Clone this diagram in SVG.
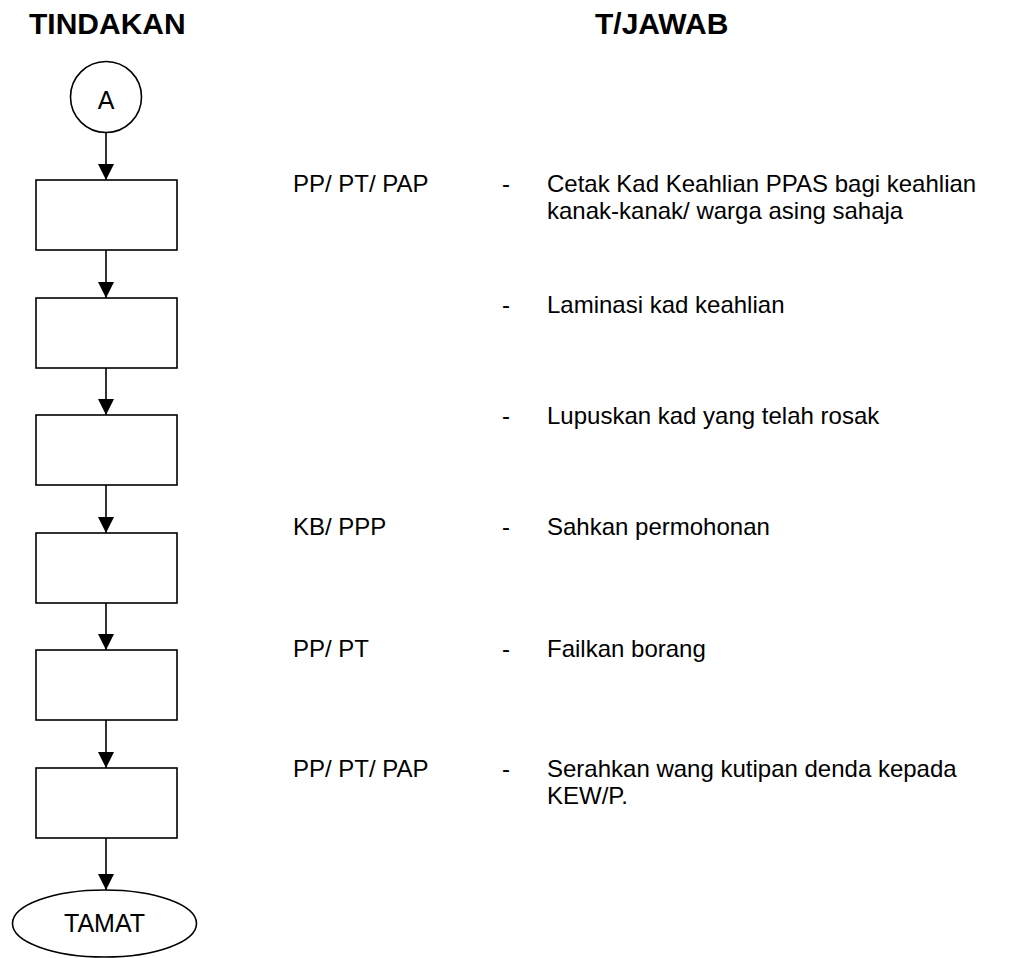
<svg xmlns="http://www.w3.org/2000/svg" width="1030" height="958" viewBox="0 0 1030 958">
<defs>
<style>
.t{font-family:"Liberation Sans",Arial,sans-serif;font-size:24px;fill:#000}
.h{font-family:"Liberation Sans",Arial,sans-serif;font-size:30px;font-weight:bold;fill:#000}
.n{font-family:"Liberation Sans",Arial,sans-serif;font-size:25px;fill:#000}
.s{fill:#fff;stroke:#000;stroke-width:1.6}
.c{stroke:#000;stroke-width:1.6;fill:none}
</style>
<marker id="ah" viewBox="0 0 16 16" refX="16" refY="8" markerWidth="16" markerHeight="16" markerUnits="userSpaceOnUse" orient="auto">
<path d="M0,0 L16,8 L0,16 Z" fill="#000"/>
</marker>
</defs>
<rect width="1030" height="958" fill="#fff"/>
<text class="h" x="29" y="34">TINDAKAN</text>
<text class="h" x="595" y="34">T/JAWAB</text>
<g id="connectors">
<line class="c" x1="106" y1="132.5" x2="106" y2="180" marker-end="url(#ah)"/>
<line class="c" x1="106" y1="250" x2="106" y2="298" marker-end="url(#ah)"/>
<line class="c" x1="106" y1="368" x2="106" y2="415" marker-end="url(#ah)"/>
<line class="c" x1="106" y1="485" x2="106" y2="533" marker-end="url(#ah)"/>
<line class="c" x1="106" y1="603" x2="106" y2="650" marker-end="url(#ah)"/>
<line class="c" x1="106" y1="720" x2="106" y2="768" marker-end="url(#ah)"/>
<line class="c" x1="106" y1="838" x2="106" y2="890" marker-end="url(#ah)"/>
</g>
<g id="nA"><circle class="s" cx="106" cy="97" r="35.5"/><text class="n" x="106" y="109" text-anchor="middle">A</text></g>
<g id="b1"><rect class="s" x="36" y="180" width="141" height="70"/></g>
<g id="b2"><rect class="s" x="36" y="298" width="141" height="70"/></g>
<g id="b3"><rect class="s" x="36" y="415" width="141" height="70"/></g>
<g id="b4"><rect class="s" x="36" y="533" width="141" height="70"/></g>
<g id="b5"><rect class="s" x="36" y="650" width="141" height="70"/></g>
<g id="b6"><rect class="s" x="36" y="768" width="141" height="70"/></g>
<g id="end"><ellipse class="s" cx="104.5" cy="923.5" rx="92" ry="33.5"/><text class="n" x="104.5" y="932" text-anchor="middle">TAMAT</text></g>
<g id="r1"><text class="t" x="293" y="192">PP/ PT/ PAP</text><text class="t" x="502" y="192">-</text><text class="t" x="547" y="192">Cetak Kad Keahlian PPAS bagi keahlian</text><text class="t" x="547" y="219">kanak-kanak/ warga asing sahaja</text></g>
<g id="r2"><text class="t" x="502" y="313">-</text><text class="t" x="547" y="313">Laminasi kad keahlian</text></g>
<g id="r3"><text class="t" x="502" y="424">-</text><text class="t" x="547" y="424">Lupuskan kad yang telah rosak</text></g>
<g id="r4"><text class="t" x="293" y="535">KB/ PPP</text><text class="t" x="502" y="535">-</text><text class="t" x="547" y="535">Sahkan permohonan</text></g>
<g id="r5"><text class="t" x="293" y="657">PP/ PT</text><text class="t" x="502" y="657">-</text><text class="t" x="547" y="657">Failkan borang</text></g>
<g id="r6"><text class="t" x="293" y="777">PP/ PT/ PAP</text><text class="t" x="502" y="777">-</text><text class="t" x="547" y="777">Serahkan wang kutipan denda kepada</text><text class="t" x="547" y="804">KEW/P.</text></g>
</svg>
